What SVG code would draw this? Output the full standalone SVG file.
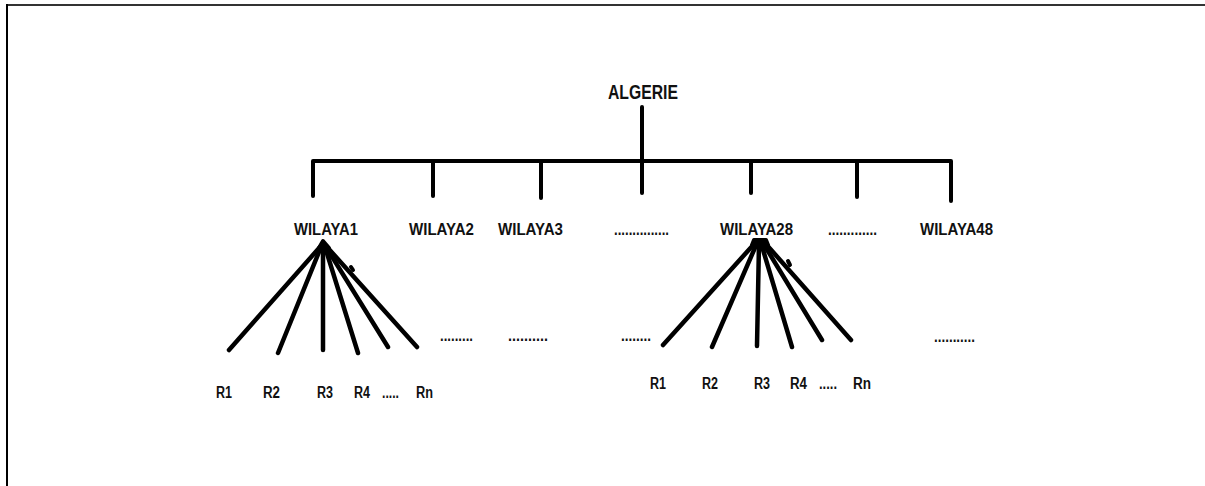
<svg xmlns="http://www.w3.org/2000/svg" width="1205" height="486" viewBox="0 0 1205 486">
<style>
text{font-family:"Liberation Sans",Arial,sans-serif;font-weight:bold;fill:#111}
.t1{font-size:20px}
.t2{font-size:17px}
.t3{font-size:16px}
.c{fill:none;stroke:#000;stroke-width:4;stroke-linecap:round;stroke-linejoin:round}
.f{stroke-width:4.5}
</style>
<rect width="1205" height="486" fill="#fff"/>
<g id="frame">
<line x1="6" y1="5" x2="1205" y2="5" stroke="#333" stroke-width="2"/>
<line x1="7" y1="4" x2="7" y2="486" stroke="#000" stroke-width="2"/>
</g>
<g id="connectors" class="c">
<path d="M642,107 V193"/>
<path d="M313,196 V161 H951 V201"/>
<path d="M433,161 V196"/>
<path d="M541,161 V198"/>
<path d="M751,161 V193"/>
<path d="M857,161 V197"/>
<g class="f">
<path d="M320,247 L229,350"/>
<path d="M321,247 L278,353"/>
<path d="M323,247 L323,350"/>
<path d="M325,247 L358,353"/>
<path d="M326,247 L388,347"/>
<path d="M327,247 L417,347"/>
<path d="M755,243 L663,345"/>
<path d="M757,243 L712,347"/>
<path d="M759,243 L757,346"/>
<path d="M761,243 L792,347"/>
<path d="M763,243 L822,340"/>
<path d="M765,243 L851,340"/>
</g>
<path d="M319,248 L323,241 L329,248 Z" fill="#000"/>
<path d="M351,267 L353,270"/>
<path d="M752,245 L754,240 H766 L768,245 Z" fill="#000"/>
<path d="M788,261 L790,265"/>
</g>
<g id="algerie"><text class="t1" x="608" y="99" textLength="70" lengthAdjust="spacingAndGlyphs">ALGERIE</text></g>
<g id="wilaya1"><text class="t2" x="294" y="235" textLength="64" lengthAdjust="spacingAndGlyphs">WILAYA1</text></g>
<g id="wilaya2"><text class="t2" x="409" y="235" textLength="65" lengthAdjust="spacingAndGlyphs">WILAYA2</text></g>
<g id="wilaya3"><text class="t2" x="498" y="235" textLength="65" lengthAdjust="spacingAndGlyphs">WILAYA3</text></g>
<g id="wdots1"><text class="t2" x="614" y="235" textLength="55" lengthAdjust="spacingAndGlyphs">...............</text></g>
<g id="wilaya28"><text class="t2" x="720" y="235" textLength="73" lengthAdjust="spacingAndGlyphs">WILAYA28</text></g>
<g id="wdots2"><text class="t2" x="828" y="235" textLength="49" lengthAdjust="spacingAndGlyphs">.............</text></g>
<g id="wilaya48"><text class="t2" x="920" y="235" textLength="73" lengthAdjust="spacingAndGlyphs">WILAYA48</text></g>
<g id="w1r1"><text class="t3" x="216" y="398" textLength="16" lengthAdjust="spacingAndGlyphs">R1</text></g>
<g id="w1r2"><text class="t3" x="263" y="398" textLength="17" lengthAdjust="spacingAndGlyphs">R2</text></g>
<g id="w1r3"><text class="t3" x="317" y="398" textLength="16" lengthAdjust="spacingAndGlyphs">R3</text></g>
<g id="w1r4"><text class="t3" x="354" y="398" textLength="16" lengthAdjust="spacingAndGlyphs">R4</text></g>
<g id="w1rdots"><text class="t3" x="382" y="398" textLength="17" lengthAdjust="spacingAndGlyphs">.....</text></g>
<g id="w1rn"><text class="t3" x="416" y="398" textLength="17" lengthAdjust="spacingAndGlyphs">Rn</text></g>
<g id="dots1"><text class="t3" x="440" y="341" textLength="33" lengthAdjust="spacingAndGlyphs">.........</text></g>
<g id="dots2"><text class="t3" x="508" y="341" textLength="40" lengthAdjust="spacingAndGlyphs">..........</text></g>
<g id="dots3"><text class="t3" x="621" y="341" textLength="30" lengthAdjust="spacingAndGlyphs">........</text></g>
<g id="w28r1"><text class="t3" x="650" y="389" textLength="16" lengthAdjust="spacingAndGlyphs">R1</text></g>
<g id="w28r2"><text class="t3" x="702" y="389" textLength="16" lengthAdjust="spacingAndGlyphs">R2</text></g>
<g id="w28r3"><text class="t3" x="754" y="389" textLength="16" lengthAdjust="spacingAndGlyphs">R3</text></g>
<g id="w28r4"><text class="t3" x="790" y="389" textLength="17" lengthAdjust="spacingAndGlyphs">R4</text></g>
<g id="w28rdots"><text class="t3" x="819" y="389" textLength="18" lengthAdjust="spacingAndGlyphs">.....</text></g>
<g id="w28rn"><text class="t3" x="853" y="389" textLength="18" lengthAdjust="spacingAndGlyphs">Rn</text></g>
<g id="dots4"><text class="t3" x="934" y="342" textLength="41" lengthAdjust="spacingAndGlyphs">...........</text></g>
</svg>
